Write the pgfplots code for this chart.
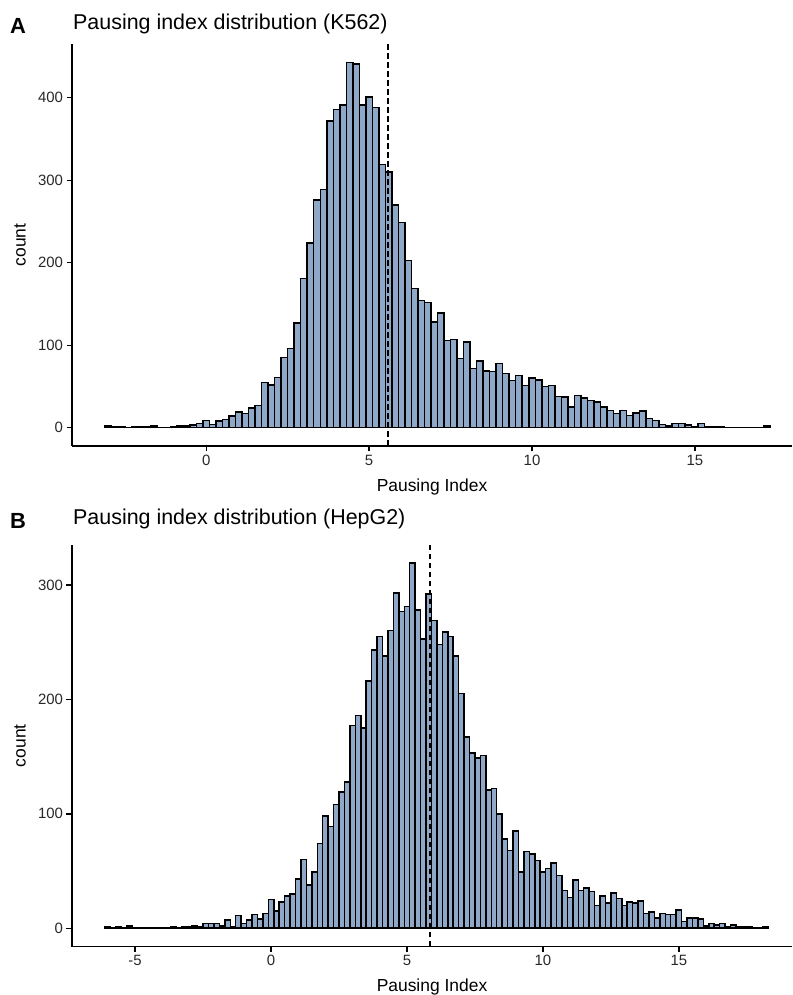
\documentclass[border=0pt]{standalone}
\usepackage{fontspec}
\setmainfont{Liberation Sans}
\usepackage{pgfplots}
\usepackage{pgfplotstable}
\pgfplotsset{compat=1.18}

\definecolor{barfill}{RGB}{143,168,200}
\definecolor{tickgrey}{RGB}{40,40,40}

% bin index k, count n (binwidth 0.2)
\pgfplotstableread{
k n
0 2
1 1
2 1
3 0
4 1
5 1
6 1
7 2
8 0
9 0
10 1
11 2
12 2
13 3
14 5
15 9
16 4
17 8
18 10
19 14
20 19
21 17
22 24
23 27
24 55
25 52
26 61
27 85
28 96
29 127
30 181
31 224
32 276
33 289
34 372
35 386
36 391
37 443
38 441
39 391
40 401
41 388
42 319
43 310
44 270
45 249
46 203
47 169
48 154
49 152
50 128
51 139
52 106
53 107
54 84
55 104
56 72
57 81
58 69
59 68
60 78
61 66
62 57
63 63
64 51
65 60
66 58
67 50
68 51
69 38
70 37
71 25
72 39
73 36
74 33
75 31
76 25
77 21
78 17
79 21
80 15
81 18
82 20
83 11
84 9
85 4
86 2
87 5
88 5
89 3
90 1
91 5
92 1
93 1
94 1
95 0
96 0
97 0
98 0
99 0
100 0
101 2
102 0
}\kcells

\pgfplotstableread{
k n
0 1
1 0
2 1
3 0
4 2
5 0
6 0
7 0
8 0
9 0
10 0
11 0
12 1
13 0
14 1
15 1
16 2
17 1
18 4
19 4
20 4
21 2
22 7
23 1
24 11
25 4
26 7
27 12
28 8
29 13
30 25
31 15
32 23
33 28
34 30
35 43
36 60
37 38
38 49
39 74
40 98
41 89
42 108
43 119
44 128
45 177
46 186
47 175
48 216
49 243
50 255
51 238
52 260
53 293
54 277
55 281
56 319
57 278
58 253
59 292
60 269
61 248
62 259
63 255
64 238
65 205
66 167
67 153
68 149
69 151
70 121
71 122
72 100
73 78
74 68
75 85
76 49
77 67
78 65
79 59
80 49
81 52
82 57
83 46
84 33
85 27
86 42
87 33
88 35
89 32
90 20
91 28
92 22
93 31
94 26
95 20
96 23
97 22
98 24
99 13
100 14
101 9
102 13
103 12
104 12
105 16
106 6
107 9
108 9
109 8
110 2
111 4
112 3
113 4
114 1
115 3
116 1
117 1
118 1
119 0
120 0
121 1
122 0
}\hepcells

\pgfplotsset{
  histax/.style={
    scale only axis,
    width=720bp,
    anchor=south west,
    axis lines=left,
    axis line style={-, line width=1.6bp, black},
    tick align=outside,
    major tick length=5.5bp,
    tick style={line width=1.4bp, black},
    /pgf/number format/assume math mode=true,
    ticklabel style={font=\fontsize{15}{15}\selectfont, text=tickgrey},
    label style={font=\fontsize{17.5}{18}\selectfont},
    every axis title/.style={at={(0,1)}, anchor=base west, inner sep=0pt,
      xshift=1bp, font=\fontsize{21.5}{22}\selectfont},
    xlabel={Pausing Index},
    ylabel={count},
    enlargelimits=false,
  },
  histbar/.style={ybar interval, fill=barfill, draw=black, line width=1.5bp},
  medline/.style={black, line width=1.7bp, dash pattern=on 5.5bp off 3.5bp},
}

\begin{document}
\begin{tikzpicture}
\path[use as bounding box] (0,0) rectangle (793bp,995bp);

\begin{axis}[histax,
  at={(72bp,549bp)}, height=402bp,
  xmin=-4.12, xmax=17.98, ymin=-22.15, ymax=465.15,
  xtick={0,5,10,15}, ytick={0,100,200,300,400},
  title={Pausing index distribution (K562)},
  title style={yshift=14.7bp},
  xlabel style={at={(0.5,-0.102)}, anchor=center},
  ylabel style={at={(-0.0722,0.5)}, anchor=center, rotate=0},
]
\addplot[histbar] table[x expr={-3.1+0.2*\thisrow{k}}, y=n] {\kcells};
\addplot[medline] coordinates {(5.59,-22.15) (5.59,465.15)};
\end{axis}

\begin{axis}[histax,
  at={(72bp,48.5bp)}, height=401.5bp,
  xmin=-7.32, xmax=19.16, ymin=-15.95, ymax=334.95,
  xtick={-5,0,5,10,15}, ytick={0,100,200,300},
  title={Pausing index distribution (HepG2)},
  title style={yshift=20.7bp},
  xlabel style={at={(0.5,-0.101)}, anchor=center},
  ylabel style={at={(-0.0722,0.5)}, anchor=center, rotate=0},
]
\addplot[histbar] table[x expr={-6.1+0.2*\thisrow{k}}, y=n] {\hepcells};
\addplot[medline] coordinates {(5.84,-15.95) (5.84,334.95)};
\end{axis}

\node[anchor=base west, inner sep=0pt, font=\bfseries\fontsize{22}{22}\selectfont] at (10bp,961.7bp) {A};
\node[anchor=base west, inner sep=0pt, font=\bfseries\fontsize{22}{22}\selectfont] at (10bp,466.7bp) {B};
\end{tikzpicture}
\end{document}
